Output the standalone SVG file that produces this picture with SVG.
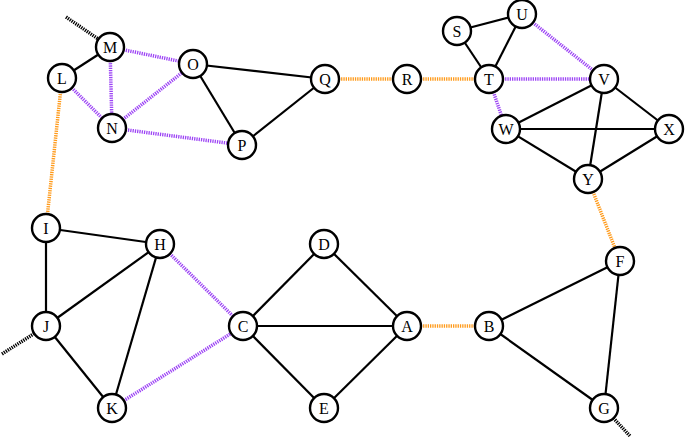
<svg xmlns="http://www.w3.org/2000/svg" width="685" height="440" viewBox="0 0 685 440">
<style>
.e{stroke:#000;stroke-width:2.2;fill:none}
.p{stroke:#9d45f5;stroke-width:3.5;stroke-dasharray:1.3 1;fill:none}
.o{stroke:#ff9a1a;stroke-width:3.5;stroke-dasharray:1.3 1;fill:none}
.s{stroke:#000;stroke-width:3.5;stroke-dasharray:1.3 1;fill:none}
.n circle{fill:#fff;stroke:#000;stroke-width:2.4}
.n text{font-family:"Liberation Serif",serif;font-size:16px;text-anchor:middle;dominant-baseline:central;fill:#000}
</style>
<rect width="685" height="440" fill="#fff"/>
<g id="connectors">
<line class="e" x1="62" y1="78" x2="110" y2="47"/>
<line class="e" x1="193" y1="64" x2="325" y2="79"/>
<line class="e" x1="193" y1="64" x2="242" y2="145"/>
<line class="e" x1="242" y1="145" x2="325" y2="79"/>
<line class="e" x1="457" y1="31" x2="522" y2="14"/>
<line class="e" x1="457" y1="31" x2="489" y2="79"/>
<line class="e" x1="522" y1="14" x2="489" y2="79"/>
<line class="e" x1="604" y1="79" x2="506" y2="129"/>
<line class="e" x1="604" y1="79" x2="669" y2="129"/>
<line class="e" x1="604" y1="79" x2="588" y2="179"/>
<line class="e" x1="506" y1="129" x2="669" y2="129"/>
<line class="e" x1="506" y1="129" x2="588" y2="179"/>
<line class="e" x1="669" y1="129" x2="588" y2="179"/>
<line class="e" x1="46" y1="228" x2="160" y2="244"/>
<line class="e" x1="46" y1="228" x2="46" y2="326"/>
<line class="e" x1="46" y1="326" x2="160" y2="244"/>
<line class="e" x1="160" y1="244" x2="112" y2="408"/>
<line class="e" x1="46" y1="326" x2="112" y2="408"/>
<line class="e" x1="243" y1="326" x2="324" y2="244"/>
<line class="e" x1="243" y1="326" x2="407" y2="326"/>
<line class="e" x1="243" y1="326" x2="324" y2="408"/>
<line class="e" x1="324" y1="244" x2="407" y2="326"/>
<line class="e" x1="324" y1="408" x2="407" y2="326"/>
<line class="e" x1="489" y1="326" x2="620" y2="261"/>
<line class="e" x1="489" y1="326" x2="604" y2="408"/>
<line class="e" x1="620" y1="261" x2="604" y2="408"/>
<line class="p" x1="110" y1="47" x2="193" y2="64"/>
<line class="p" x1="110" y1="47" x2="112" y2="128"/>
<line class="p" x1="62" y1="78" x2="112" y2="128"/>
<line class="p" x1="112" y1="128" x2="193" y2="64"/>
<line class="p" x1="112" y1="128" x2="242" y2="145"/>
<line class="p" x1="522" y1="14" x2="604" y2="79"/>
<line class="p" x1="489" y1="79" x2="604" y2="79"/>
<line class="p" x1="489" y1="79" x2="506" y2="129"/>
<line class="p" x1="160" y1="244" x2="243" y2="326"/>
<line class="p" x1="112" y1="408" x2="243" y2="326"/>
<line class="o" x1="62" y1="78" x2="46" y2="228"/>
<line class="o" x1="325" y1="79" x2="407" y2="79"/>
<line class="o" x1="407" y1="79" x2="489" y2="79"/>
<line class="o" x1="588" y1="179" x2="620" y2="261"/>
<line class="o" x1="407" y1="326" x2="489" y2="326"/>
<line class="s" x1="66" y1="17" x2="110" y2="47"/>
<line class="s" x1="2" y1="354" x2="46" y2="326"/>
<line class="s" x1="604" y1="408" x2="630" y2="436"/>
</g>
<g id="M" class="n"><circle cx="110" cy="47" r="14"/><text x="110" y="47">M</text></g>
<g id="L" class="n"><circle cx="62" cy="78" r="14"/><text x="62" y="78">L</text></g>
<g id="O" class="n"><circle cx="193" cy="64" r="14"/><text x="193" y="64">O</text></g>
<g id="N" class="n"><circle cx="112" cy="128" r="14"/><text x="112" y="128">N</text></g>
<g id="P" class="n"><circle cx="242" cy="145" r="14"/><text x="242" y="145">P</text></g>
<g id="Q" class="n"><circle cx="325" cy="79" r="14"/><text x="325" y="79">Q</text></g>
<g id="R" class="n"><circle cx="407" cy="79" r="14"/><text x="407" y="79">R</text></g>
<g id="T" class="n"><circle cx="489" cy="79" r="14"/><text x="489" y="79">T</text></g>
<g id="S" class="n"><circle cx="457" cy="31" r="14"/><text x="457" y="31">S</text></g>
<g id="U" class="n"><circle cx="522" cy="14" r="14"/><text x="522" y="14">U</text></g>
<g id="V" class="n"><circle cx="604" cy="79" r="14"/><text x="604" y="79">V</text></g>
<g id="W" class="n"><circle cx="506" cy="129" r="14"/><text x="506" y="129">W</text></g>
<g id="X" class="n"><circle cx="669" cy="129" r="14"/><text x="669" y="129">X</text></g>
<g id="Y" class="n"><circle cx="588" cy="179" r="14"/><text x="588" y="179">Y</text></g>
<g id="I" class="n"><circle cx="46" cy="228" r="14"/><text x="46" y="228">I</text></g>
<g id="H" class="n"><circle cx="160" cy="244" r="14"/><text x="160" y="244">H</text></g>
<g id="J" class="n"><circle cx="46" cy="326" r="14"/><text x="46" y="326">J</text></g>
<g id="K" class="n"><circle cx="112" cy="408" r="14"/><text x="112" y="408">K</text></g>
<g id="C" class="n"><circle cx="243" cy="326" r="14"/><text x="243" y="326">C</text></g>
<g id="D" class="n"><circle cx="324" cy="244" r="14"/><text x="324" y="244">D</text></g>
<g id="A" class="n"><circle cx="407" cy="326" r="14"/><text x="407" y="326">A</text></g>
<g id="E" class="n"><circle cx="324" cy="408" r="14"/><text x="324" y="408">E</text></g>
<g id="B" class="n"><circle cx="489" cy="326" r="14"/><text x="489" y="326">B</text></g>
<g id="F" class="n"><circle cx="620" cy="261" r="14"/><text x="620" y="261">F</text></g>
<g id="G" class="n"><circle cx="604" cy="408" r="14"/><text x="604" y="408">G</text></g>
</svg>
